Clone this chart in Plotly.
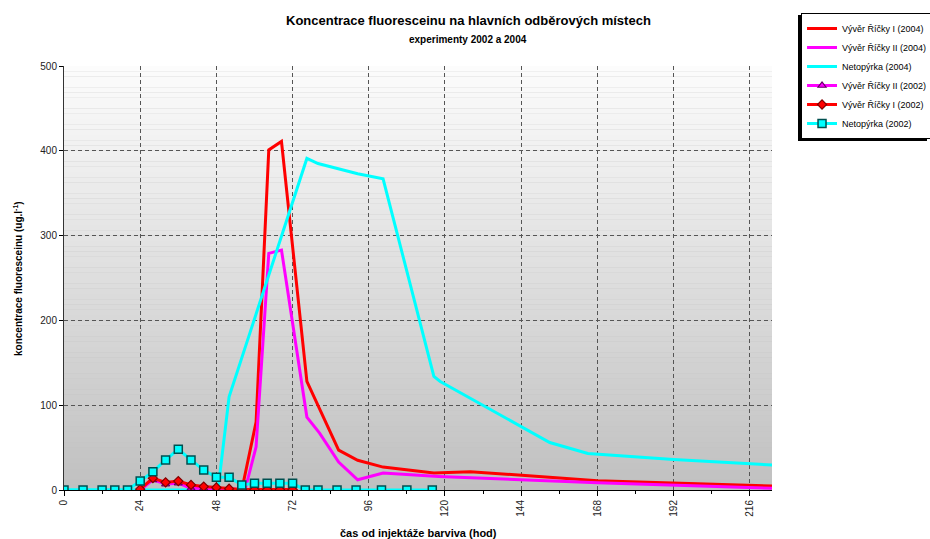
import plotly.graph_objects as go

# --- 2004 experiment (hours since injection, concentration ug/l) ---
t_rik1_2004 = [56, 60.5, 64.5, 68.5, 76.5, 86.5, 92.5, 100.5, 116.5, 128, 142, 168, 223]
c_rik1_2004 = [0, 80, 401, 411, 128, 47, 35, 27, 20, 21.5, 18, 11, 4.7]

t_rik2_2004 = [57, 60.5, 64.5, 68.5, 76.5, 80.5, 86.5, 92.5, 100.5, 118, 168, 223]
c_rik2_2004 = [0, 51, 279, 283, 86, 67, 33, 12, 20, 16, 8.5, 2]

t_neto_2004 = [0, 48.5, 52, 76.5, 80, 92.5, 100.5, 116.5, 118.5, 144, 153, 165, 192, 223]
c_neto_2004 = [0, 0, 110, 391, 385, 373, 367, 134, 128, 75, 56, 43, 36, 29.5]

# --- 2002 experiment ---
t_2002 = [0, 6, 12, 16, 20, 24, 28, 32, 36, 40, 44, 48, 52, 56, 60, 64, 68, 72,
          76, 80, 86, 92, 100, 108, 116]
c_neto_2002 = [0, 0, 0, 0, 0, 10.5, 21.5, 35.5, 48, 35.5, 23.5, 15, 15, 6, 8, 8, 8, 8,
               0, 0, 0, 0, 0, 0, 0]
t_rik_2002 = [24, 28, 32, 36, 40, 44, 48, 52, 56, 60, 64, 68, 72]
c_rik1_2002 = [1, 14, 9, 10.5, 6, 4, 3, 1.5, 0.5, 0.5, 0.5, 0.5, 0.5]
c_rik2_2002 = [0, 12, 7, 8, 2, 2, 1.5, 1, 0.5, 0.5, 0.5, 0.5, 0.5]

x_ticks = [0, 24, 48, 72, 96, 120, 144, 168, 192, 216]
y_ticks = [0, 100, 200, 300, 400, 500]

FONT = "Liberation Sans, Arial, sans-serif"
RED, MAG, CYAN = "#ff0000", "#ff00ff", "#00ffff"

fig = go.Figure()
fig.add_trace(go.Scatter(x=t_rik1_2004, y=c_rik1_2004, mode="lines",
                         name="Vývěr Říčky I (2004)", line=dict(color=RED, width=3)))
fig.add_trace(go.Scatter(x=t_rik2_2004, y=c_rik2_2004, mode="lines",
                         name="Vývěr Říčky II (2004)", line=dict(color=MAG, width=3)))
fig.add_trace(go.Scatter(x=t_neto_2004, y=c_neto_2004, mode="lines",
                         name="Netopýrka (2004)", line=dict(color=CYAN, width=3)))
fig.add_trace(go.Scatter(x=t_rik_2002, y=c_rik2_2002, mode="lines+markers",
                         name="Vývěr Říčky II (2002)", line=dict(color=MAG, width=3),
                         marker=dict(symbol="triangle-up", size=7, color=MAG,
                                     line=dict(color="#660066", width=1.2))))
fig.add_trace(go.Scatter(x=t_rik_2002, y=c_rik1_2002, mode="lines+markers",
                         name="Vývěr Říčky I (2002)", line=dict(color=RED, width=3),
                         marker=dict(symbol="diamond", size=7, color=RED,
                                     line=dict(color="#800000", width=1.2))))
fig.add_trace(go.Scatter(x=t_2002, y=c_neto_2002, mode="lines+markers",
                         name="Netopýrka (2002)", line=dict(color=CYAN, width=3),
                         marker=dict(symbol="square", size=8, color=CYAN,
                                     line=dict(color="#005050", width=1.5))))

# vertical grey gradient behind the plot area
shapes = []
n_bands = 80
for i in range(n_bands):
    f = i / (n_bands - 1)
    g = round(192 + (252 - 192) * f)
    shapes.append(dict(type="rect", xref="x domain", yref="y domain",
                       x0=0, x1=1, y0=i / n_bands, y1=(i + 1) / n_bands,
                       fillcolor=f"rgb({g},{g},{g})", line=dict(width=0), layer="below"))

# drop shadow offset down-left behind the legend box
shapes.append(dict(type="rect", xref="paper", yref="paper",
                   x0=(798 - 64) / 708, x1=(927 - 64) / 708,
                   y0=(490 - 141) / 424, y1=(490 - 15) / 424,
                   fillcolor="#000", line=dict(width=0), layer="above"))

annotations = [
    dict(text="<b>Koncentrace fluoresceinu na hlavních odběrových místech</b>",
         xref="paper", yref="paper", x=0.571, y=1.107, showarrow=False,
         font=dict(family=FONT, size=13, color="#000"), xanchor="center", yanchor="middle"),
    dict(text="<b>experimenty 2002 a 2004</b>",
         xref="paper", yref="paper", x=0.571, y=1.062, showarrow=False,
         font=dict(family=FONT, size=10, color="#000"), xanchor="center", yanchor="middle"),
    dict(text="<b>koncentrace fluoresceinu (ug.l<sup>-1</sup>)</b>",
         xref="paper", yref="paper", x=-0.065, y=0.5, showarrow=False, textangle=-90,
         font=dict(family=FONT, size=10, color="#000"), xanchor="center", yanchor="middle"),
    dict(text="<b>čas od injektáže barviva (hod)</b>",
         xref="paper", yref="paper", x=0.5, y=-0.101, showarrow=False,
         font=dict(family=FONT, size=11, color="#000"), xanchor="center", yanchor="middle"),
]

fig.update_layout(
    width=930, height=539,
    margin=dict(l=64, r=158, t=66, b=49, autoexpand=False),
    paper_bgcolor="white", plot_bgcolor="#c0c0c0",
    font=dict(family=FONT, size=10, color="#222"),
    shapes=shapes, annotations=annotations,
    showlegend=True,
    legend=dict(x=1.041, y=1.125, xanchor="left", yanchor="top",
                bgcolor="white", bordercolor="black", borderwidth=1,
                font=dict(family=FONT, size=9, color="#000"),
                tracegroupgap=0, itemwidth=30),
    xaxis=dict(range=[0, 223], tickvals=x_ticks, ticktext=[str(v) for v in x_ticks],
               tickangle=-90, ticks="outside", ticklen=5, tickcolor="#000",
               showline=True, linecolor="#000", linewidth=1, zeroline=False,
               showgrid=True, gridcolor="#555", griddash="4px,3px", gridwidth=1,
               minor=dict(dtick=12, tick0=0, ticks="outside", ticklen=3,
                          tickcolor="#000", showgrid=False),
               tickfont=dict(family=FONT, size=10, color="#222")),
    yaxis=dict(range=[0, 500], tickvals=y_ticks, ticks="outside", ticklen=4,
               tickcolor="#000", showline=True, linecolor="#333", linewidth=1,
               zeroline=False, showgrid=True, gridcolor="#555", griddash="4px,3px",
               gridwidth=1, tickfont=dict(family=FONT, size=10, color="#222")),
)

fig.write_html("out.html")
